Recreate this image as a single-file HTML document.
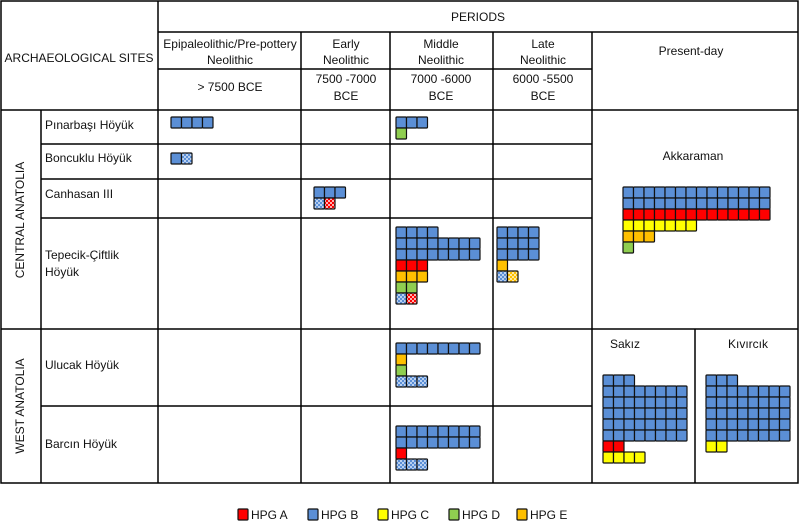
<!DOCTYPE html>
<html><head><meta charset="utf-8"><style>
body{margin:0;background:#fff;}
svg{display:block;font-family:"Liberation Sans","DejaVu Sans",sans-serif;}
</style></head><body>
<svg id="chart" width="800" height="522" viewBox="0 0 800 522">
<defs>
<pattern id="hb" width="4" height="4" patternUnits="userSpaceOnUse"><rect width="4" height="4" fill="#5b8fd6"/><rect width="2" height="2" fill="#b9d0f0"/><rect x="2" y="2" width="2" height="2" fill="#b9d0f0"/></pattern>
<pattern id="ha" width="4" height="4" patternUnits="userSpaceOnUse"><rect width="4" height="4" fill="#ff0000"/><rect width="2" height="2" fill="#ffb0b0"/><rect x="2" y="2" width="2" height="2" fill="#ffb0b0"/></pattern>
<pattern id="he" width="4" height="4" patternUnits="userSpaceOnUse"><rect width="4" height="4" fill="#ffc000"/><rect width="2" height="2" fill="#ffe9a0"/><rect x="2" y="2" width="2" height="2" fill="#ffe9a0"/></pattern>
</defs>
<g id="grid" stroke="#000" stroke-width="1.5" fill="none">
<rect x="1" y="1" width="797" height="482"/>
<line x1="158" y1="1" x2="158" y2="110"/>
<line x1="158" y1="32" x2="798" y2="32"/>
<line x1="158" y1="69" x2="592" y2="69"/>
<line x1="1" y1="110" x2="798" y2="110"/>
<line x1="301" y1="32" x2="301" y2="483"/>
<line x1="390" y1="32" x2="390" y2="483"/>
<line x1="493" y1="32" x2="493" y2="483"/>
<line x1="592" y1="32" x2="592" y2="483"/>
<line x1="41" y1="110" x2="41" y2="483"/>
<line x1="158" y1="110" x2="158" y2="483"/>
<line x1="41" y1="144" x2="592" y2="144"/>
<line x1="41" y1="179" x2="592" y2="179"/>
<line x1="41" y1="218" x2="592" y2="218"/>
<line x1="1" y1="329" x2="798" y2="329"/>
<line x1="41" y1="406" x2="592" y2="406"/>
<line x1="695" y1="329" x2="695" y2="483"/>
</g>
<g font-size="12" fill="#111" text-anchor="middle">
<text x="79" y="62">ARCHAEOLOGICAL SITES</text>
<text x="478" y="21">PERIODS</text>
<text x="230" y="48">Epipaleolithic/Pre-pottery</text>
<text x="230" y="64">Neolithic</text>
<text x="230" y="91">&gt; 7500 BCE</text>
<text x="346" y="48">Early</text>
<text x="346" y="64">Neolithic</text>
<text x="346" y="83">7500 -7000</text>
<text x="346" y="100">BCE</text>
<text x="441" y="48">Middle</text>
<text x="441" y="64">Neolithic</text>
<text x="441" y="83">7000 -6000</text>
<text x="441" y="100">BCE</text>
<text x="543" y="48">Late</text>
<text x="543" y="64">Neolithic</text>
<text x="543" y="83">6000 -5500</text>
<text x="543" y="100">BCE</text>
<text x="691" y="55">Present-day</text>
<text x="693" y="160">Akkaraman</text>
<text x="625" y="348">Sakız</text>
<text x="748" y="348">Kıvırcık</text>
<text transform="translate(24,220) rotate(-90)">CENTRAL ANATOLIA</text>
<text transform="translate(24,406) rotate(-90)">WEST ANATOLIA</text>
</g>
<g font-size="12" fill="#111">
<text x="45" y="129">Pınarbaşı Höyük</text>
<text x="45" y="162">Boncuklu Höyük</text>
<text x="45" y="198">Canhasan III</text>
<text x="45" y="259">Tepecik-Çiftlik</text>
<text x="45" y="276">Höyük</text>
<text x="45" y="369">Ulucak Höyük</text>
<text x="45" y="448">Barcın Höyük</text>
</g>
<g id="marks"></g>
<g id="legend"></g>
</svg>
<script>
// Haplogroup codes: A,B,C,D,E solid; a,b,e hatched variants
const categories = ["HPG A","HPG B","HPG C","HPG D","HPG E"];
const pinarbasiEpi = ["BBBB"];
const pinarbasiMid = ["BBB","D"];
const boncukluEpi = ["Bb"];
const canhasanEarly = ["BBB","ba"];
const tepecikMid = ["BBBB","BBBBBBBB","BBBBBBBB","AAA","EEE","DD","ba"];
const tepecikLate = ["BBBB","BBBB","BBBB","E","be"];
const akkaraman = ["BBBBBBBBBBBBBB","BBBBBBBBBBBBBB","AAAAAAAAAAAAAA","CCCCCCC","EEE","D"];
const ulucakMid = ["BBBBBBBB","E","D","bbb"];
const barcinMid = ["BBBBBBBB","BBBBBBBB","A","bbb"];
const sakiz = ["BBB","BBBBBBBB","BBBBBBBB","BBBBBBBB","BBBBBBBB","BBBBBBBB","AA","CCCC"];
const kivircik = ["BBB","BBBBBBBB","BBBBBBBB","BBBBBBBB","BBBBBBBB","BBBBBBBB","CC"];

const fills={A:"#ff0000",B:"#5b8fd6",C:"#ffff00",D:"#8fce50",E:"#ffc000",a:"url(#ha)",b:"url(#hb)",e:"url(#he)"};
const CW=10.5, CH=11;
const ns="http://www.w3.org/2000/svg";
const marks=document.getElementById("marks");
function drawGrid(rows,x0,y0,name){
  const g=document.createElementNS(ns,"g");
  
  
  rows.forEach((row,ri)=>{
    [...row].forEach((c,ci)=>{
      const r=document.createElementNS(ns,"rect");
      r.setAttribute("x",x0+ci*CW);r.setAttribute("y",y0+ri*CH);
      r.setAttribute("width",CW);r.setAttribute("height",CH);
      r.setAttribute("rx",1);
      r.setAttribute("fill",fills[c]);r.setAttribute("stroke","#111");r.setAttribute("stroke-width","1.2");
      
      
      g.appendChild(r);
    });
  });
  marks.appendChild(g);
}
drawGrid(pinarbasiEpi,171,117,"pinarbasi-epipaleolithic");
drawGrid(pinarbasiMid,396,117,"pinarbasi-middle");
drawGrid(boncukluEpi,171,153,"boncuklu-epipaleolithic");
drawGrid(canhasanEarly,314,187,"canhasan-early");
drawGrid(tepecikMid,396,227,"tepecik-middle");
drawGrid(tepecikLate,497,227,"tepecik-late");
drawGrid(akkaraman,623,187,"akkaraman");
drawGrid(ulucakMid,396,343,"ulucak-middle");
drawGrid(barcinMid,396,426,"barcin-middle");
drawGrid(sakiz,603,375,"sakiz");
drawGrid(kivircik,706,375,"kivircik");

const legend=document.getElementById("legend");
const lx=[238,308,378,449,517];
["A","B","C","D","E"].forEach((k,i)=>{
  const r=document.createElementNS(ns,"rect");
  r.setAttribute("x",lx[i]);r.setAttribute("y",509);r.setAttribute("width",10);r.setAttribute("height",11);
  r.setAttribute("fill",fills[k]);r.setAttribute("stroke","#111");r.setAttribute("stroke-width","1.2");r.setAttribute("rx",1);
  
  
  legend.appendChild(r);
  const t=document.createElementNS(ns,"text");
  t.setAttribute("x",lx[i]+13);t.setAttribute("y",519);t.setAttribute("font-size","12");t.setAttribute("fill","#111");
  t.textContent=categories[i];
  
  
  legend.appendChild(t);
});
</script>
</body></html>
